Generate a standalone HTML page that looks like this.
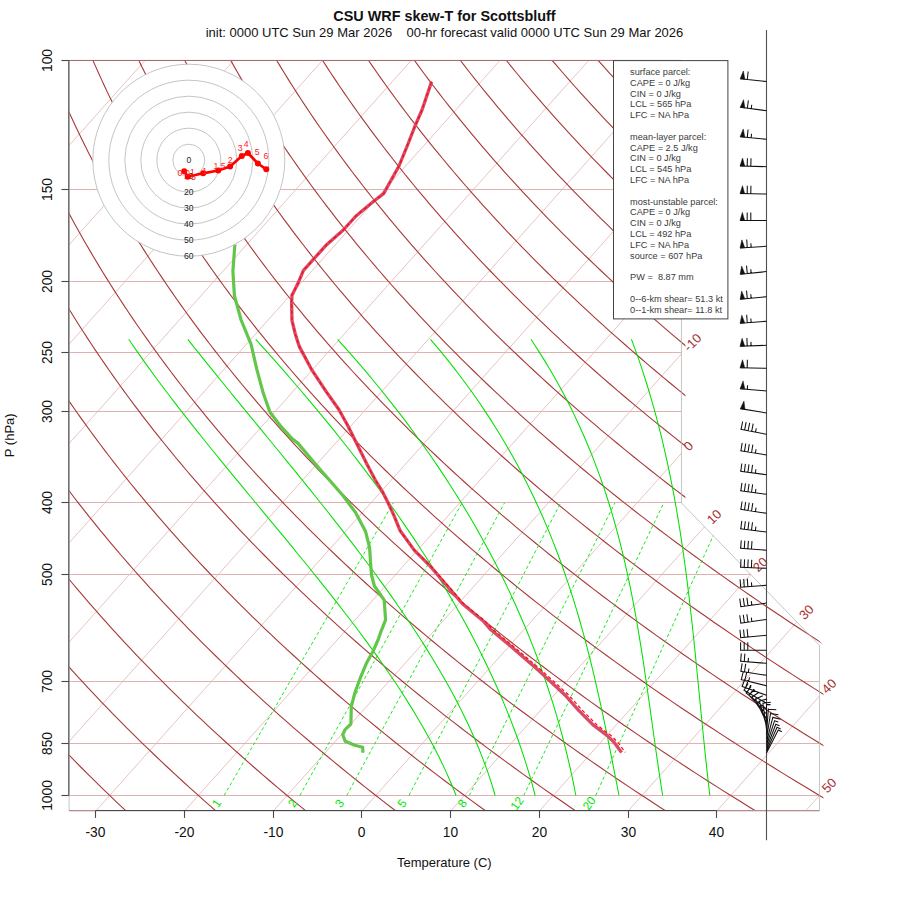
<!DOCTYPE html>
<html><head><meta charset="utf-8"><style>
html,body{margin:0;padding:0;background:#fff;}
svg{display:block;font-family:"Liberation Sans",sans-serif;}
</style></head><body>
<svg width="900" height="900" viewBox="0 0 900 900">
<rect width="900" height="900" fill="#fff"/>
<defs><clipPath id="cp"><polygon points="69.10,60.33 69.10,811.03 819.45,811.03 819.45,645.28 681.45,502.96 681.45,60.33"/></clipPath><clipPath id="cp2"><polygon points="69.10,60.33 69.10,811.03 823.45,811.03 823.45,645.28 685.45,502.96 685.45,60.33"/></clipPath></defs>
<g stroke="#dba8a8" stroke-width="0.9"><line x1="69.10" y1="795.50" x2="819.45" y2="795.50"/><line x1="69.10" y1="743.50" x2="819.45" y2="743.50"/><line x1="69.10" y1="681.50" x2="819.45" y2="681.50"/><line x1="69.10" y1="574.50" x2="750.49" y2="574.50"/><line x1="69.10" y1="502.50" x2="681.45" y2="502.50"/><line x1="69.10" y1="411.50" x2="681.45" y2="411.50"/><line x1="69.10" y1="352.50" x2="681.45" y2="352.50"/><line x1="69.10" y1="281.50" x2="681.45" y2="281.50"/><line x1="69.10" y1="189.50" x2="681.45" y2="189.50"/></g>
<g clip-path="url(#cp)" stroke="#e2b4b4" stroke-width="0.8"><line x1="-525.37" y1="811.03" x2="145.12" y2="60.33"/><line x1="-436.64" y1="811.03" x2="233.85" y2="60.33"/><line x1="-347.92" y1="811.03" x2="322.58" y2="60.33"/><line x1="-259.19" y1="811.03" x2="411.30" y2="60.33"/><line x1="-170.46" y1="811.03" x2="500.03" y2="60.33"/><line x1="-81.73" y1="811.03" x2="588.76" y2="60.33"/><line x1="6.99" y1="811.03" x2="677.49" y2="60.33"/><line x1="95.72" y1="811.03" x2="766.21" y2="60.33"/><line x1="184.45" y1="811.03" x2="854.94" y2="60.33"/><line x1="273.18" y1="811.03" x2="943.67" y2="60.33"/><line x1="361.90" y1="811.03" x2="1032.39" y2="60.33"/><line x1="450.63" y1="811.03" x2="1121.12" y2="60.33"/><line x1="539.36" y1="811.03" x2="1209.85" y2="60.33"/><line x1="628.08" y1="811.03" x2="1298.58" y2="60.33"/><line x1="716.81" y1="811.03" x2="1387.30" y2="60.33"/><line x1="805.54" y1="811.03" x2="1476.03" y2="60.33"/></g>
<g clip-path="url(#cp2)" fill="none" stroke="#a83838" stroke-width="1.1"><polyline points="-277.61,26.69 -277.08,33.31 -276.51,39.93 -275.90,46.54 -275.25,53.16 -274.57,59.78 -273.84,66.39 -273.07,73.01 -272.27,79.62 -271.43,86.24 -270.54,92.86 -269.62,99.47 -268.65,106.09 -267.64,112.71 -266.59,119.32 -265.51,125.94 -264.37,132.56 -263.20,139.17 -261.99,145.79 -260.73,152.41 -259.43,159.02 -258.09,165.64 -256.70,172.26 -255.27,178.87 -253.80,185.49 -252.28,192.11 -250.72,198.72 -249.12,205.34 -247.47,211.95 -245.77,218.57 -244.03,225.19 -242.25,231.80 -240.42,238.42 -238.54,245.04 -236.62,251.65 -234.65,258.27 -232.63,264.89 -230.57,271.50 -228.45,278.12 -226.29,284.74 -224.09,291.35 -221.83,297.97 -219.53,304.59 -217.18,311.20 -214.77,317.82 -212.32,324.44 -209.82,331.05 -207.27,337.67 -204.67,344.28 -202.02,350.90 -199.32,357.52 -196.56,364.13 -193.76,370.75 -190.90,377.37 -187.99,383.98 -185.03,390.60 -182.01,397.22 -178.95,403.83 -175.83,410.45 -172.65,417.07 -169.42,423.68 -166.14,430.30 -162.80,436.92 -159.41,443.53 -155.96,450.15 -152.46,456.77 -148.90,463.38 -145.28,470.00 -141.61,476.61 -137.88,483.23 -134.09,489.85 -130.25,496.46 -126.35,503.08 -122.39,509.70 -118.37,516.31 -114.29,522.93 -110.15,529.55 -105.96,536.16 -101.70,542.78 -97.38,549.40 -93.00,556.01 -88.56,562.63 -84.06,569.25 -79.50,575.86 -74.87,582.48 -70.18,589.10 -65.43,595.71 -60.62,602.33 -55.74,608.94 -50.80,615.56 -45.79,622.18 -40.72,628.79 -35.58,635.41 -30.38,642.03 -25.11,648.64 -19.77,655.26 -14.37,661.88 -8.90,668.49 -3.37,675.11 2.24,681.73 7.91,688.34 13.66,694.96 19.47,701.58 25.35,708.19 31.30,714.81 37.32,721.43 43.41,728.04 49.58,734.66 55.81,741.27 62.12,747.89 68.50,754.51 74.96,761.12 81.49,767.74 88.09,774.36 94.76,780.97 101.51,787.59 108.34,794.21 115.24,800.82 122.22,807.44 129.27,814.06"/><polyline points="-233.05,26.69 -232.25,33.31 -231.41,39.93 -230.54,46.54 -229.62,53.16 -228.66,59.78 -227.66,66.39 -226.62,73.01 -225.54,79.62 -224.42,86.24 -223.26,92.86 -222.05,99.47 -220.80,106.09 -219.51,112.71 -218.18,119.32 -216.80,125.94 -215.38,132.56 -213.92,139.17 -212.41,145.79 -210.86,152.41 -209.26,159.02 -207.62,165.64 -205.93,172.26 -204.20,178.87 -202.43,185.49 -200.60,192.11 -198.74,198.72 -196.82,205.34 -194.86,211.95 -192.85,218.57 -190.80,225.19 -188.70,231.80 -186.55,238.42 -184.35,245.04 -182.10,251.65 -179.81,258.27 -177.47,264.89 -175.08,271.50 -172.63,278.12 -170.14,284.74 -167.60,291.35 -165.01,297.97 -162.37,304.59 -159.68,311.20 -156.93,317.82 -154.14,324.44 -151.29,331.05 -148.39,337.67 -145.44,344.28 -142.44,350.90 -139.38,357.52 -136.27,364.13 -133.11,370.75 -129.89,377.37 -126.62,383.98 -123.29,390.60 -119.91,397.22 -116.47,403.83 -112.98,410.45 -109.43,417.07 -105.83,423.68 -102.17,430.30 -98.45,436.92 -94.67,443.53 -90.84,450.15 -86.95,456.77 -83.00,463.38 -78.99,470.00 -74.93,476.61 -70.80,483.23 -66.62,489.85 -62.37,496.46 -58.07,503.08 -53.70,509.70 -49.27,516.31 -44.78,522.93 -40.23,529.55 -35.62,536.16 -30.94,542.78 -26.20,549.40 -21.40,556.01 -16.54,562.63 -11.61,569.25 -6.61,575.86 -1.55,582.48 3.57,589.10 8.76,595.71 14.01,602.33 19.34,608.94 24.72,615.56 30.18,622.18 35.70,628.79 41.30,635.41 46.96,642.03 52.68,648.64 58.48,655.26 64.35,661.88 70.29,668.49 76.29,675.11 82.37,681.73 88.52,688.34 94.74,694.96 101.04,701.58 107.40,708.19 113.84,714.81 120.36,721.43 126.94,728.04 133.60,734.66 140.34,741.27 147.15,747.89 154.04,754.51 161.00,761.12 168.04,767.74 175.15,774.36 182.35,780.97 189.62,787.59 196.97,794.21 204.40,800.82 211.90,807.44 219.49,814.06"/><polyline points="-188.48,26.69 -187.42,33.31 -186.32,39.93 -185.17,46.54 -183.99,53.16 -182.76,59.78 -181.49,66.39 -180.17,73.01 -178.82,79.62 -177.42,86.24 -175.97,92.86 -174.49,99.47 -172.95,106.09 -171.38,112.71 -169.76,119.32 -168.09,125.94 -166.38,132.56 -164.63,139.17 -162.83,145.79 -160.98,152.41 -159.09,159.02 -157.15,165.64 -155.16,172.26 -153.13,178.87 -151.05,185.49 -148.92,192.11 -146.75,198.72 -144.52,205.34 -142.25,211.95 -139.93,218.57 -137.56,225.19 -135.15,231.80 -132.68,238.42 -130.16,245.04 -127.59,251.65 -124.97,258.27 -122.31,264.89 -119.59,271.50 -116.81,278.12 -113.99,284.74 -111.12,291.35 -108.19,297.97 -105.21,304.59 -102.18,311.20 -99.09,317.82 -95.95,324.44 -92.76,331.05 -89.51,337.67 -86.21,344.28 -82.86,350.90 -79.45,357.52 -75.98,364.13 -72.46,370.75 -68.88,377.37 -65.24,383.98 -61.55,390.60 -57.80,397.22 -54.00,403.83 -50.13,410.45 -46.21,417.07 -42.23,423.68 -38.19,430.30 -34.10,436.92 -29.94,443.53 -25.72,450.15 -21.44,456.77 -17.10,463.38 -12.71,470.00 -8.24,476.61 -3.72,483.23 0.86,489.85 5.51,496.46 10.22,503.08 14.99,509.70 19.83,516.31 24.73,522.93 29.69,529.55 34.72,536.16 39.81,542.78 44.97,549.40 50.20,556.01 55.49,562.63 60.84,569.25 66.27,575.86 71.76,582.48 77.32,589.10 82.95,595.71 88.65,602.33 94.41,608.94 100.25,615.56 106.15,622.18 112.13,628.79 118.17,635.41 124.29,642.03 130.48,648.64 136.74,655.26 143.07,661.88 149.48,668.49 155.95,675.11 162.51,681.73 169.13,688.34 175.83,694.96 182.61,701.58 189.46,708.19 196.39,714.81 203.39,721.43 210.47,728.04 217.63,734.66 224.86,741.27 232.18,747.89 239.57,754.51 247.04,761.12 254.59,767.74 262.22,774.36 269.93,780.97 277.72,787.59 285.60,794.21 293.55,800.82 301.59,807.44 309.71,814.06"/><polyline points="-143.92,26.69 -142.60,33.31 -141.23,39.93 -139.81,46.54 -138.36,53.16 -136.86,59.78 -135.31,66.39 -133.72,73.01 -132.09,79.62 -130.41,86.24 -128.69,92.86 -126.92,99.47 -125.11,106.09 -123.25,112.71 -121.34,119.32 -119.39,125.94 -117.39,132.56 -115.34,139.17 -113.25,145.79 -111.11,152.41 -108.92,159.02 -106.68,165.64 -104.39,172.26 -102.06,178.87 -99.68,185.49 -97.24,192.11 -94.76,198.72 -92.23,205.34 -89.65,211.95 -87.01,218.57 -84.33,225.19 -81.59,231.80 -78.81,238.42 -75.97,245.04 -73.08,251.65 -70.14,258.27 -67.14,264.89 -64.10,271.50 -60.99,278.12 -57.84,284.74 -54.63,291.35 -51.37,297.97 -48.05,304.59 -44.68,311.20 -41.25,317.82 -37.77,324.44 -34.23,331.05 -30.64,337.67 -26.98,344.28 -23.28,350.90 -19.51,357.52 -15.69,364.13 -11.81,370.75 -7.87,377.37 -3.87,383.98 0.18,390.60 4.30,397.22 8.48,403.83 12.71,410.45 17.01,417.07 21.36,423.68 25.78,430.30 30.26,436.92 34.80,443.53 39.40,450.15 44.06,456.77 48.79,463.38 53.58,470.00 58.44,476.61 63.36,483.23 68.34,489.85 73.39,496.46 78.50,503.08 83.68,509.70 88.92,516.31 94.23,522.93 99.61,529.55 105.05,536.16 110.57,542.78 116.15,549.40 121.79,556.01 127.51,562.63 133.30,569.25 139.15,575.86 145.08,582.48 151.07,589.10 157.14,595.71 163.28,602.33 169.49,608.94 175.77,615.56 182.12,622.18 188.55,628.79 195.05,635.41 201.62,642.03 208.27,648.64 214.99,655.26 221.79,661.88 228.66,668.49 235.61,675.11 242.64,681.73 249.74,688.34 256.92,694.96 264.18,701.58 271.52,708.19 278.93,714.81 286.42,721.43 294.00,728.04 301.65,734.66 309.39,741.27 317.20,747.89 325.10,754.51 333.08,761.12 341.14,767.74 349.29,774.36 357.51,780.97 365.83,787.59 374.22,794.21 382.71,800.82 391.27,807.44 399.93,814.06"/><polyline points="-99.36,26.69 -97.77,33.31 -96.13,39.93 -94.45,46.54 -92.72,53.16 -90.95,59.78 -89.14,66.39 -87.27,73.01 -85.36,79.62 -83.41,86.24 -81.40,92.86 -79.36,99.47 -77.26,106.09 -75.11,112.71 -72.92,119.32 -70.68,125.94 -68.39,132.56 -66.05,139.17 -63.67,145.79 -61.23,152.41 -58.75,159.02 -56.21,165.64 -53.62,172.26 -50.99,178.87 -48.30,185.49 -45.56,192.11 -42.77,198.72 -39.93,205.34 -37.04,211.95 -34.09,218.57 -31.09,225.19 -28.04,231.80 -24.94,238.42 -21.78,245.04 -18.57,251.65 -15.30,258.27 -11.98,264.89 -8.61,271.50 -5.17,278.12 -1.69,284.74 1.85,291.35 5.45,297.97 9.11,304.59 12.82,311.20 16.59,317.82 20.42,324.44 24.30,331.05 28.24,337.67 32.24,344.28 36.30,350.90 40.42,357.52 44.60,364.13 48.84,370.75 53.14,377.37 57.50,383.98 61.92,390.60 66.40,397.22 70.95,403.83 75.56,410.45 80.22,417.07 84.96,423.68 89.75,430.30 94.61,436.92 99.53,443.53 104.52,450.15 109.57,456.77 114.69,463.38 119.87,470.00 125.12,476.61 130.44,483.23 135.82,489.85 141.27,496.46 146.78,503.08 152.37,509.70 158.02,516.31 163.74,522.93 169.53,529.55 175.39,536.16 181.32,542.78 187.32,549.40 193.39,556.01 199.53,562.63 205.75,569.25 212.04,575.86 218.39,582.48 224.83,589.10 231.33,595.71 237.91,602.33 244.56,608.94 251.29,615.56 258.09,622.18 264.97,628.79 271.92,635.41 278.96,642.03 286.06,648.64 293.25,655.26 300.51,661.88 307.85,668.49 315.27,675.11 322.77,681.73 330.35,688.34 338.01,694.96 345.75,701.58 353.57,708.19 361.47,714.81 369.46,721.43 377.53,728.04 385.68,734.66 393.91,741.27 402.23,747.89 410.63,754.51 419.12,761.12 427.69,767.74 436.35,774.36 445.10,780.97 453.93,787.59 462.85,794.21 471.86,800.82 480.96,807.44 490.15,814.06"/><polyline points="-54.80,26.69 -52.94,33.31 -51.04,39.93 -49.09,46.54 -47.09,53.16 -45.05,59.78 -42.96,66.39 -40.82,73.01 -38.64,79.62 -36.40,86.24 -34.12,92.86 -31.79,99.47 -29.41,106.09 -26.98,112.71 -24.50,119.32 -21.97,125.94 -19.40,132.56 -16.77,139.17 -14.09,145.79 -11.36,152.41 -8.57,159.02 -5.74,165.64 -2.85,172.26 0.08,178.87 3.07,185.49 6.12,192.11 9.21,198.72 12.36,205.34 15.57,211.95 18.83,218.57 22.14,225.19 25.51,231.80 28.93,238.42 32.41,245.04 35.94,251.65 39.53,258.27 43.18,264.89 46.88,271.50 50.65,278.12 54.46,284.74 58.34,291.35 62.27,297.97 66.27,304.59 70.32,311.20 74.43,317.82 78.60,324.44 82.83,331.05 87.12,337.67 91.47,344.28 95.88,350.90 100.36,357.52 104.89,364.13 109.49,370.75 114.15,377.37 118.87,383.98 123.66,390.60 128.51,397.22 133.42,403.83 138.40,410.45 143.44,417.07 148.55,423.68 153.72,430.30 158.96,436.92 164.27,443.53 169.64,450.15 175.08,456.77 180.59,463.38 186.16,470.00 191.80,476.61 197.51,483.23 203.30,489.85 209.15,496.46 215.06,503.08 221.06,509.70 227.12,516.31 233.25,522.93 239.45,529.55 245.73,536.16 252.08,542.78 258.50,549.40 264.99,556.01 271.56,562.63 278.20,569.25 284.92,575.86 291.71,582.48 298.58,589.10 305.52,595.71 312.54,602.33 319.64,608.94 326.81,615.56 334.06,622.18 341.39,628.79 348.80,635.41 356.29,642.03 363.86,648.64 371.50,655.26 379.23,661.88 387.04,668.49 394.93,675.11 402.91,681.73 410.96,688.34 419.10,694.96 427.32,701.58 435.63,708.19 444.02,714.81 452.49,721.43 461.05,728.04 469.70,734.66 478.43,741.27 487.25,747.89 496.16,754.51 505.16,761.12 514.24,767.74 523.42,774.36 532.68,780.97 542.04,787.59 551.48,794.21 561.02,800.82 570.64,807.44 580.36,814.06"/><polyline points="-10.23,26.69 -8.11,33.31 -5.94,39.93 -3.73,46.54 -1.46,53.16 0.85,59.78 3.22,66.39 5.63,73.01 8.09,79.62 10.60,86.24 13.16,92.86 15.77,99.47 18.44,106.09 21.15,112.71 23.91,119.32 26.73,125.94 29.60,132.56 32.52,139.17 35.49,145.79 38.52,152.41 41.60,159.02 44.73,165.64 47.91,172.26 51.15,178.87 54.45,185.49 57.80,192.11 61.20,198.72 64.66,205.34 68.18,211.95 71.75,218.57 75.38,225.19 79.06,231.80 82.80,238.42 86.60,245.04 90.46,251.65 94.37,258.27 98.34,264.89 102.37,271.50 106.47,278.12 110.62,284.74 114.83,291.35 119.10,297.97 123.43,304.59 127.82,311.20 132.27,317.82 136.78,324.44 141.36,331.05 146.00,337.67 150.70,344.28 155.47,350.90 160.29,357.52 165.18,364.13 170.14,370.75 175.16,377.37 180.25,383.98 185.40,390.60 190.61,397.22 195.90,403.83 201.25,410.45 206.66,417.07 212.15,423.68 217.70,430.30 223.32,436.92 229.00,443.53 234.76,450.15 240.59,456.77 246.48,463.38 252.45,470.00 258.49,476.61 264.59,483.23 270.77,489.85 277.02,496.46 283.35,503.08 289.74,509.70 296.21,516.31 302.76,522.93 309.37,529.55 316.06,536.16 322.83,542.78 329.67,549.40 336.59,556.01 343.58,562.63 350.65,569.25 357.80,575.86 365.03,582.48 372.33,589.10 379.71,595.71 387.17,602.33 394.71,608.94 402.33,615.56 410.03,622.18 417.81,628.79 425.68,635.41 433.62,642.03 441.65,648.64 449.76,655.26 457.95,661.88 466.23,668.49 474.59,675.11 483.04,681.73 491.57,688.34 500.19,694.96 508.89,701.58 517.68,708.19 526.56,714.81 535.53,721.43 544.58,728.04 553.73,734.66 562.96,741.27 572.28,747.89 581.69,754.51 591.20,761.12 600.80,767.74 610.48,774.36 620.27,780.97 630.14,787.59 640.11,794.21 650.17,800.82 660.33,807.44 670.58,814.06"/><polyline points="34.33,26.69 36.72,33.31 39.15,39.93 41.64,46.54 44.17,53.16 46.76,59.78 49.39,66.39 52.08,73.01 54.82,79.62 57.61,86.24 60.45,92.86 63.34,99.47 66.28,106.09 69.28,112.71 72.33,119.32 75.44,125.94 78.59,132.56 81.81,139.17 85.07,145.79 88.39,152.41 91.77,159.02 95.20,165.64 98.68,172.26 102.23,178.87 105.82,185.49 109.48,192.11 113.19,198.72 116.96,205.34 120.78,211.95 124.67,218.57 128.61,225.19 132.61,231.80 136.67,238.42 140.79,245.04 144.97,251.65 149.21,258.27 153.51,264.89 157.86,271.50 162.29,278.12 166.77,284.74 171.31,291.35 175.92,297.97 180.59,304.59 185.32,311.20 190.11,317.82 194.97,324.44 199.89,331.05 204.88,337.67 209.93,344.28 215.05,350.90 220.23,357.52 225.48,364.13 230.79,370.75 236.17,377.37 241.62,383.98 247.13,390.60 252.72,397.22 258.37,403.83 264.09,410.45 269.88,417.07 275.74,423.68 281.67,430.30 287.67,436.92 293.74,443.53 299.88,450.15 306.09,456.77 312.38,463.38 318.74,470.00 325.17,476.61 331.67,483.23 338.25,489.85 344.90,496.46 351.63,503.08 358.43,509.70 365.31,516.31 372.26,522.93 379.29,529.55 386.40,536.16 393.58,542.78 400.85,549.40 408.19,556.01 415.61,562.63 423.11,569.25 430.68,575.86 438.34,582.48 446.08,589.10 453.90,595.71 461.80,602.33 469.79,608.94 477.85,615.56 486.00,622.18 494.24,628.79 502.55,635.41 510.96,642.03 519.44,648.64 528.02,655.26 536.67,661.88 545.42,668.49 554.25,675.11 563.17,681.73 572.18,688.34 581.28,694.96 590.46,701.58 599.74,708.19 609.10,714.81 618.56,721.43 628.11,728.04 637.75,734.66 647.48,741.27 657.31,747.89 667.23,754.51 677.24,761.12 687.35,767.74 697.55,774.36 707.85,780.97 718.24,787.59 728.74,794.21 739.33,800.82 750.01,807.44 760.80,814.06"/><polyline points="78.89,26.69 81.54,33.31 84.24,39.93 87.00,46.54 89.80,53.16 92.66,59.78 95.57,66.39 98.53,73.01 101.54,79.62 104.61,86.24 107.73,92.86 110.90,99.47 114.13,106.09 117.41,112.71 120.75,119.32 124.14,125.94 127.59,132.56 131.09,139.17 134.65,145.79 138.27,152.41 141.94,159.02 145.67,165.64 149.45,172.26 153.30,178.87 157.20,185.49 161.16,192.11 165.18,198.72 169.25,205.34 173.39,211.95 177.59,218.57 181.84,225.19 186.16,231.80 190.54,238.42 194.98,245.04 199.48,251.65 204.04,258.27 208.67,264.89 213.35,271.50 218.11,278.12 222.92,284.74 227.80,291.35 232.74,297.97 237.74,304.59 242.82,311.20 247.95,317.82 253.15,324.44 258.42,331.05 263.76,337.67 269.16,344.28 274.63,350.90 280.16,357.52 285.77,364.13 291.44,370.75 297.18,377.37 302.99,383.98 308.87,390.60 314.82,397.22 320.84,403.83 326.94,410.45 333.10,417.07 339.33,423.68 345.64,430.30 352.02,436.92 358.48,443.53 365.00,450.15 371.60,456.77 378.28,463.38 385.03,470.00 391.85,476.61 398.75,483.23 405.73,489.85 412.78,496.46 419.91,503.08 427.12,509.70 434.41,516.31 441.77,522.93 449.21,529.55 456.74,536.16 464.34,542.78 472.02,549.40 479.79,556.01 487.63,562.63 495.56,569.25 503.57,575.86 511.66,582.48 519.83,589.10 528.09,595.71 536.43,602.33 544.86,608.94 553.38,615.56 561.97,622.18 570.66,628.79 579.43,635.41 588.29,642.03 597.24,648.64 606.27,655.26 615.39,661.88 624.61,668.49 633.91,675.11 643.30,681.73 652.79,688.34 662.37,694.96 672.03,701.58 681.79,708.19 691.65,714.81 701.60,721.43 711.64,728.04 721.77,734.66 732.01,741.27 742.33,747.89 752.76,754.51 763.28,761.12 773.90,767.74 784.62,774.36 795.43,780.97 806.35,787.59 817.37,794.21 828.48,800.82 839.70,807.44 851.02,814.06"/><polyline points="123.45,26.69 126.37,33.31 129.34,39.93 132.36,46.54 135.43,53.16 138.56,59.78 141.74,66.39 144.98,73.01 148.27,79.62 151.61,86.24 155.01,92.86 158.47,99.47 161.98,106.09 165.55,112.71 169.17,119.32 172.85,125.94 176.59,132.56 180.38,139.17 184.23,145.79 188.14,152.41 192.11,159.02 196.14,165.64 200.22,172.26 204.37,178.87 208.57,185.49 212.84,192.11 217.16,198.72 221.55,205.34 226.00,211.95 230.51,218.57 235.08,225.19 239.71,231.80 244.41,238.42 249.17,245.04 253.99,251.65 258.88,258.27 263.83,264.89 268.84,271.50 273.92,278.12 279.07,284.74 284.28,291.35 289.56,297.97 294.90,304.59 300.31,311.20 305.79,317.82 311.34,324.44 316.95,331.05 322.63,337.67 328.39,344.28 334.21,350.90 340.10,357.52 346.06,364.13 352.09,370.75 358.19,377.37 364.36,383.98 370.61,390.60 376.93,397.22 383.32,403.83 389.78,410.45 396.32,417.07 402.93,423.68 409.61,430.30 416.38,436.92 423.21,443.53 430.12,450.15 437.11,456.77 444.17,463.38 451.32,470.00 458.53,476.61 465.83,483.23 473.21,489.85 480.66,496.46 488.20,503.08 495.81,509.70 503.50,516.31 511.28,522.93 519.14,529.55 527.07,536.16 535.09,542.78 543.20,549.40 551.38,556.01 559.66,562.63 568.01,569.25 576.45,575.86 584.97,582.48 593.59,589.10 602.28,595.71 611.07,602.33 619.94,608.94 628.90,615.56 637.94,622.18 647.08,628.79 656.31,635.41 665.62,642.03 675.03,648.64 684.53,655.26 694.12,661.88 703.80,668.49 713.57,675.11 723.44,681.73 733.40,688.34 743.45,694.96 753.60,701.58 763.85,708.19 774.19,714.81 784.63,721.43 795.17,728.04 805.80,734.66 816.53,741.27 827.36,747.89 838.29,754.51 849.32,761.12 860.45,767.74 871.68,774.36 883.02,780.97 894.45,787.59 905.99,794.21 917.64,800.82 929.38,807.44 941.24,814.06"/><polyline points="168.02,26.69 171.20,33.31 174.43,39.93 177.72,46.54 181.07,53.16 184.47,59.78 187.92,66.39 191.43,73.01 195.00,79.62 198.62,86.24 202.30,92.86 206.03,99.47 209.83,106.09 213.68,112.71 217.59,119.32 221.56,125.94 225.58,132.56 229.67,139.17 233.81,145.79 238.02,152.41 242.28,159.02 246.61,165.64 250.99,172.26 255.44,178.87 259.95,185.49 264.52,192.11 269.15,198.72 273.85,205.34 278.61,211.95 283.43,218.57 288.31,225.19 293.26,231.80 298.28,238.42 303.36,245.04 308.50,251.65 313.71,258.27 318.99,264.89 324.33,271.50 329.74,278.12 335.22,284.74 340.77,291.35 346.38,297.97 352.06,304.59 357.81,311.20 363.63,317.82 369.52,324.44 375.48,331.05 381.51,337.67 387.61,344.28 393.79,350.90 400.03,357.52 406.35,364.13 412.74,370.75 419.20,377.37 425.74,383.98 432.35,390.60 439.03,397.22 445.79,403.83 452.63,410.45 459.54,417.07 466.52,423.68 473.59,430.30 480.73,436.92 487.95,443.53 495.24,450.15 502.62,456.77 510.07,463.38 517.60,470.00 525.22,476.61 532.91,483.23 540.68,489.85 548.54,496.46 556.48,503.08 564.50,509.70 572.60,516.31 580.79,522.93 589.06,529.55 597.41,536.16 605.85,542.78 614.37,549.40 622.98,556.01 631.68,562.63 640.46,569.25 649.33,575.86 658.29,582.48 667.34,589.10 676.47,595.71 685.70,602.33 695.01,608.94 704.42,615.56 713.91,622.18 723.50,628.79 733.18,635.41 742.96,642.03 752.82,648.64 762.78,655.26 772.84,661.88 782.99,668.49 793.23,675.11 803.57,681.73 814.01,688.34 824.54,694.96 835.17,701.58 845.91,708.19 856.73,714.81 867.66,721.43 878.69,728.04 889.82,734.66 901.05,741.27 912.39,747.89 923.82,754.51 935.36,761.12 947.00,767.74 958.75,774.36 970.60,780.97 982.56,787.59 994.62,794.21 1006.79,800.82 1019.07,807.44 1031.46,814.06"/><polyline points="212.58,26.69 216.03,33.31 219.53,39.93 223.08,46.54 226.70,53.16 230.37,59.78 234.10,66.39 237.88,73.01 241.72,79.62 245.62,86.24 249.58,92.86 253.60,99.47 257.68,106.09 261.81,112.71 266.01,119.32 270.26,125.94 274.58,132.56 278.95,139.17 283.39,145.79 287.89,152.41 292.45,159.02 297.08,165.64 301.76,172.26 306.51,178.87 311.32,185.49 316.20,192.11 321.14,198.72 326.14,205.34 331.21,211.95 336.35,218.57 341.55,225.19 346.82,231.80 352.15,238.42 357.55,245.04 363.02,251.65 368.55,258.27 374.15,264.89 379.82,271.50 385.56,278.12 391.37,284.74 397.25,291.35 403.20,297.97 409.22,304.59 415.31,311.20 421.47,317.82 427.71,324.44 434.01,331.05 440.39,337.67 446.84,344.28 453.37,350.90 459.97,357.52 466.64,364.13 473.39,370.75 480.21,377.37 487.11,383.98 494.09,390.60 501.14,397.22 508.27,403.83 515.47,410.45 522.76,417.07 530.12,423.68 537.56,430.30 545.08,436.92 552.68,443.53 560.36,450.15 568.12,456.77 575.97,463.38 583.89,470.00 591.90,476.61 599.99,483.23 608.16,489.85 616.42,496.46 624.76,503.08 633.19,509.70 641.70,516.31 650.29,522.93 658.98,529.55 667.75,536.16 676.60,542.78 685.55,549.40 694.58,556.01 703.70,562.63 712.91,569.25 722.22,575.86 731.61,582.48 741.09,589.10 750.66,595.71 760.33,602.33 770.09,608.94 779.94,615.56 789.89,622.18 799.93,628.79 810.06,635.41 820.29,642.03 830.62,648.64 841.04,655.26 851.56,661.88 862.17,668.49 872.89,675.11 883.70,681.73 894.62,688.34 905.63,694.96 916.75,701.58 927.96,708.19 939.28,714.81 950.70,721.43 962.22,728.04 973.85,734.66 985.58,741.27 997.41,747.89 1009.35,754.51 1021.40,761.12 1033.56,767.74 1045.82,774.36 1058.19,780.97 1070.66,787.59 1083.25,794.21 1095.95,800.82 1108.76,807.44 1121.67,814.06"/><polyline points="257.14,26.69 260.85,33.31 264.62,39.93 268.45,46.54 272.33,53.16 276.27,59.78 280.27,66.39 284.33,73.01 288.45,79.62 292.63,86.24 296.87,92.86 301.16,99.47 305.52,106.09 309.94,112.71 314.42,119.32 318.97,125.94 323.57,132.56 328.24,139.17 332.97,145.79 337.77,152.41 342.62,159.02 347.55,165.64 352.53,172.26 357.58,178.87 362.70,185.49 367.88,192.11 373.13,198.72 378.44,205.34 383.82,211.95 389.27,218.57 394.78,225.19 400.37,231.80 406.02,238.42 411.74,245.04 417.53,251.65 423.39,258.27 429.32,264.89 435.31,271.50 441.38,278.12 447.53,284.74 453.74,291.35 460.02,297.97 466.38,304.59 472.81,311.20 479.31,317.82 485.89,324.44 492.54,331.05 499.27,337.67 506.07,344.28 512.95,350.90 519.90,357.52 526.93,364.13 534.04,370.75 541.22,377.37 548.48,383.98 555.82,390.60 563.24,397.22 570.74,403.83 578.32,410.45 585.97,417.07 593.71,423.68 601.53,430.30 609.43,436.92 617.42,443.53 625.48,450.15 633.63,456.77 641.86,463.38 650.18,470.00 658.58,476.61 667.07,483.23 675.64,489.85 684.30,496.46 693.04,503.08 701.87,509.70 710.79,516.31 719.80,522.93 728.90,529.55 738.08,536.16 747.36,542.78 756.72,549.40 766.18,556.01 775.73,562.63 785.37,569.25 795.10,575.86 804.92,582.48 814.84,589.10 824.85,595.71 834.96,602.33 845.16,608.94 855.46,615.56 865.86,622.18 876.35,628.79 886.94,635.41 897.62,642.03 908.41,648.64 919.29,655.26 930.28,661.88 941.36,668.49 952.55,675.11 963.84,681.73 975.23,688.34 986.72,694.96 998.32,701.58 1010.02,708.19 1021.82,714.81 1033.73,721.43 1045.75,728.04 1057.87,734.66 1070.10,741.27 1082.44,747.89 1094.89,754.51 1107.44,761.12 1120.11,767.74 1132.88,774.36 1145.77,780.97 1158.77,787.59 1171.88,794.21 1185.10,800.82 1198.44,807.44 1211.89,814.06"/><polyline points="301.70,26.69 305.68,33.31 309.72,39.93 313.81,46.54 317.96,53.16 322.17,59.78 326.45,66.39 330.78,73.01 335.18,79.62 339.63,86.24 344.15,92.86 348.73,99.47 353.37,106.09 358.08,112.71 362.84,119.32 367.67,125.94 372.57,132.56 377.53,139.17 382.55,145.79 387.64,152.41 392.79,159.02 398.01,165.64 403.30,172.26 408.65,178.87 414.07,185.49 419.56,192.11 425.11,198.72 430.74,205.34 436.43,211.95 442.19,218.57 448.02,225.19 453.92,231.80 459.89,238.42 465.93,245.04 472.04,251.65 478.22,258.27 484.48,264.89 490.80,271.50 497.20,278.12 503.68,284.74 510.22,291.35 516.84,297.97 523.54,304.59 530.31,311.20 537.16,317.82 544.08,324.44 551.07,331.05 558.15,337.67 565.30,344.28 572.53,350.90 579.84,357.52 587.22,364.13 594.69,370.75 602.23,377.37 609.86,383.98 617.56,390.60 625.35,397.22 633.21,403.83 641.16,410.45 649.19,417.07 657.31,423.68 665.51,430.30 673.79,436.92 682.15,443.53 690.60,450.15 699.14,456.77 707.76,463.38 716.47,470.00 725.27,476.61 734.15,483.23 743.12,489.85 752.18,496.46 761.33,503.08 770.56,509.70 779.89,516.31 789.31,522.93 798.82,529.55 808.42,536.16 818.11,542.78 827.90,549.40 837.78,556.01 847.75,562.63 857.82,569.25 867.98,575.86 878.24,582.48 888.59,589.10 899.04,595.71 909.59,602.33 920.24,608.94 930.98,615.56 941.83,622.18 952.77,628.79 963.81,635.41 974.96,642.03 986.20,648.64 997.55,655.26 1009.00,661.88 1020.55,668.49 1032.21,675.11 1043.97,681.73 1055.84,688.34 1067.81,694.96 1079.89,701.58 1092.07,708.19 1104.37,714.81 1116.77,721.43 1129.28,728.04 1141.90,734.66 1154.63,741.27 1167.47,747.89 1180.42,754.51 1193.48,761.12 1206.66,767.74 1219.95,774.36 1233.35,780.97 1246.87,787.59 1260.51,794.21 1274.26,800.82 1288.13,807.44 1302.11,814.06"/><polyline points="346.27,26.69 350.51,33.31 354.81,39.93 359.17,46.54 363.59,53.16 368.08,59.78 372.62,66.39 377.23,73.01 381.90,79.62 386.64,86.24 391.43,92.86 396.29,99.47 401.22,106.09 406.21,112.71 411.26,119.32 416.38,125.94 421.56,132.56 426.81,139.17 432.13,145.79 437.52,152.41 442.97,159.02 448.48,165.64 454.07,172.26 459.72,178.87 465.45,185.49 471.24,192.11 477.10,198.72 483.03,205.34 489.04,211.95 495.11,218.57 501.25,225.19 507.47,231.80 513.76,238.42 520.12,245.04 526.55,251.65 533.06,258.27 539.64,264.89 546.29,271.50 553.02,278.12 559.83,284.74 566.71,291.35 573.67,297.97 580.70,304.59 587.81,311.20 595.00,317.82 602.26,324.44 609.60,331.05 617.03,337.67 624.53,344.28 632.11,350.90 639.77,357.52 647.51,364.13 655.34,370.75 663.24,377.37 671.23,383.98 679.30,390.60 687.45,397.22 695.69,403.83 704.01,410.45 712.41,417.07 720.90,423.68 729.48,430.30 738.14,436.92 746.89,443.53 755.72,450.15 764.65,456.77 773.66,463.38 782.76,470.00 791.95,476.61 801.23,483.23 810.60,489.85 820.06,496.46 829.61,503.08 839.25,509.70 848.99,516.31 858.82,522.93 868.74,529.55 878.76,536.16 888.87,542.78 899.07,549.40 909.38,556.01 919.78,562.63 930.27,569.25 940.86,575.86 951.56,582.48 962.35,589.10 973.23,595.71 984.22,602.33 995.31,608.94 1006.50,615.56 1017.80,622.18 1029.19,628.79 1040.69,635.41 1052.29,642.03 1063.99,648.64 1075.80,655.26 1087.72,661.88 1099.74,668.49 1111.87,675.11 1124.10,681.73 1136.45,688.34 1148.90,694.96 1161.46,701.58 1174.13,708.19 1186.91,714.81 1199.80,721.43 1212.80,728.04 1225.92,734.66 1239.15,741.27 1252.49,747.89 1265.95,754.51 1279.52,761.12 1293.21,767.74 1307.02,774.36 1320.94,780.97 1334.98,787.59 1349.14,794.21 1363.41,800.82 1377.81,807.44 1392.33,814.06"/><polyline points="390.83,26.69 395.34,33.31 399.90,39.93 404.53,46.54 409.23,53.16 413.98,59.78 418.80,66.39 423.68,73.01 428.63,79.62 433.64,86.24 438.72,92.86 443.86,99.47 449.07,106.09 454.34,112.71 459.68,119.32 465.09,125.94 470.56,132.56 476.10,139.17 481.71,145.79 487.39,152.41 493.14,159.02 498.95,165.64 504.84,172.26 510.80,178.87 516.82,185.49 522.92,192.11 529.09,198.72 535.33,205.34 541.64,211.95 548.03,218.57 554.49,225.19 561.02,231.80 567.63,238.42 574.31,245.04 581.06,251.65 587.90,258.27 594.80,264.89 601.78,271.50 608.84,278.12 615.98,284.74 623.20,291.35 630.49,297.97 637.86,304.59 645.31,311.20 652.84,317.82 660.45,324.44 668.14,331.05 675.91,337.67 683.76,344.28 691.69,350.90 699.71,357.52 707.80,364.13 715.99,370.75 724.25,377.37 732.60,383.98 741.04,390.60 749.56,397.22 758.16,403.83 766.85,410.45 775.63,417.07 784.50,423.68 793.45,430.30 802.49,436.92 811.62,443.53 820.84,450.15 830.15,456.77 839.56,463.38 849.05,470.00 858.63,476.61 868.31,483.23 878.07,489.85 887.94,496.46 897.89,503.08 907.94,509.70 918.08,516.31 928.32,522.93 938.66,529.55 949.09,536.16 959.62,542.78 970.25,549.40 980.97,556.01 991.80,562.63 1002.72,569.25 1013.75,575.86 1024.87,582.48 1036.10,589.10 1047.43,595.71 1058.86,602.33 1070.39,608.94 1082.03,615.56 1093.77,622.18 1105.61,628.79 1117.57,635.41 1129.62,642.03 1141.79,648.64 1154.06,655.26 1166.44,661.88 1178.93,668.49 1191.53,675.11 1204.24,681.73 1217.06,688.34 1229.99,694.96 1243.03,701.58 1256.18,708.19 1269.45,714.81 1282.84,721.43 1296.33,728.04 1309.94,734.66 1323.67,741.27 1337.52,747.89 1351.48,754.51 1365.56,761.12 1379.76,767.74 1394.08,774.36 1408.52,780.97 1423.08,787.59 1437.76,794.21 1452.57,800.82 1467.50,807.44 1482.55,814.06"/><polyline points="435.39,26.69 440.16,33.31 445.00,39.93 449.90,46.54 454.86,53.16 459.88,59.78 464.98,66.39 470.13,73.01 475.36,79.62 480.65,86.24 486.00,92.86 491.42,99.47 496.91,106.09 502.47,112.71 508.10,119.32 513.79,125.94 519.56,132.56 525.39,139.17 531.29,145.79 537.26,152.41 543.31,159.02 549.42,165.64 555.61,172.26 561.87,178.87 568.20,185.49 574.60,192.11 581.08,198.72 587.63,205.34 594.25,211.95 600.95,218.57 607.72,225.19 614.57,231.80 621.50,238.42 628.50,245.04 635.58,251.65 642.73,258.27 649.96,264.89 657.27,271.50 664.66,278.12 672.13,284.74 679.68,291.35 687.31,297.97 695.02,304.59 702.81,311.20 710.68,317.82 718.63,324.44 726.67,331.05 734.78,337.67 742.99,344.28 751.27,350.90 759.64,357.52 768.10,364.13 776.64,370.75 785.26,377.37 793.97,383.98 802.77,390.60 811.66,397.22 820.63,403.83 829.70,410.45 838.85,417.07 848.09,423.68 857.42,430.30 866.85,436.92 876.36,443.53 885.96,450.15 895.66,456.77 905.45,463.38 915.34,470.00 925.31,476.61 935.39,483.23 945.55,489.85 955.81,496.46 966.17,503.08 976.63,509.70 987.18,516.31 997.83,522.93 1008.58,529.55 1019.43,536.16 1030.38,542.78 1041.42,549.40 1052.57,556.01 1063.82,562.63 1075.18,569.25 1086.63,575.86 1098.19,582.48 1109.85,589.10 1121.62,595.71 1133.49,602.33 1145.46,608.94 1157.55,615.56 1169.74,622.18 1182.04,628.79 1194.44,635.41 1206.96,642.03 1219.58,648.64 1232.32,655.26 1245.16,661.88 1258.12,668.49 1271.19,675.11 1284.37,681.73 1297.67,688.34 1311.08,694.96 1324.60,701.58 1338.24,708.19 1352.00,714.81 1365.87,721.43 1379.86,728.04 1393.97,734.66 1408.20,741.27 1422.55,747.89 1437.01,754.51 1451.60,761.12 1466.31,767.74 1481.15,774.36 1496.11,780.97 1511.19,787.59 1526.39,794.21 1541.72,800.82 1557.18,807.44 1572.77,814.06"/><polyline points="479.96,26.69 484.99,33.31 490.09,39.93 495.26,46.54 500.49,53.16 505.79,59.78 511.15,66.39 516.58,73.01 522.08,79.62 527.65,86.24 533.28,92.86 538.99,99.47 544.76,106.09 550.60,112.71 556.52,119.32 562.50,125.94 568.55,132.56 574.68,139.17 580.87,145.79 587.14,152.41 593.48,159.02 599.89,165.64 606.38,172.26 612.94,178.87 619.57,185.49 626.28,192.11 633.06,198.72 639.92,205.34 646.86,211.95 653.87,218.57 660.96,225.19 668.12,231.80 675.37,238.42 682.69,245.04 690.09,251.65 697.57,258.27 705.13,264.89 712.76,271.50 720.48,278.12 728.28,284.74 736.17,291.35 744.13,297.97 752.18,304.59 760.31,311.20 768.52,317.82 776.81,324.44 785.20,331.05 793.66,337.67 802.21,344.28 810.85,350.90 819.58,357.52 828.39,364.13 837.28,370.75 846.27,377.37 855.35,383.98 864.51,390.60 873.76,397.22 883.11,403.83 892.54,410.45 902.07,417.07 911.69,423.68 921.40,430.30 931.20,436.92 941.09,443.53 951.09,450.15 961.17,456.77 971.35,463.38 981.62,470.00 992.00,476.61 1002.46,483.23 1013.03,489.85 1023.69,496.46 1034.46,503.08 1045.32,509.70 1056.28,516.31 1067.34,522.93 1078.50,529.55 1089.77,536.16 1101.13,542.78 1112.60,549.40 1124.17,556.01 1135.85,562.63 1147.63,569.25 1159.51,575.86 1171.50,582.48 1183.60,589.10 1195.81,595.71 1208.12,602.33 1220.54,608.94 1233.07,615.56 1245.71,622.18 1258.46,628.79 1271.32,635.41 1284.29,642.03 1297.37,648.64 1310.57,655.26 1323.88,661.88 1337.31,668.49 1350.85,675.11 1364.50,681.73 1378.27,688.34 1392.16,694.96 1406.17,701.58 1420.30,708.19 1434.54,714.81 1448.90,721.43 1463.39,728.04 1477.99,734.66 1492.72,741.27 1507.57,747.89 1522.55,754.51 1537.64,761.12 1552.87,767.74 1568.21,774.36 1583.69,780.97 1599.29,787.59 1615.02,794.21 1630.88,800.82 1646.87,807.44 1662.99,814.06"/><polyline points="524.52,26.69 529.82,33.31 535.19,39.93 540.62,46.54 546.12,53.16 551.69,59.78 557.33,66.39 563.03,73.01 568.81,79.62 574.65,86.24 580.57,92.86 586.55,99.47 592.61,106.09 598.74,112.71 604.93,119.32 611.20,125.94 617.55,132.56 623.96,139.17 630.45,145.79 637.01,152.41 643.65,159.02 650.36,165.64 657.15,172.26 664.01,178.87 670.95,185.49 677.96,192.11 685.05,198.72 692.22,205.34 699.47,211.95 706.79,218.57 714.19,225.19 721.67,231.80 729.24,238.42 736.88,245.04 744.60,251.65 752.40,258.27 760.29,264.89 768.25,271.50 776.30,278.12 784.44,284.74 792.65,291.35 800.95,297.97 809.34,304.59 817.80,311.20 826.36,317.82 835.00,324.44 843.73,331.05 852.54,337.67 861.44,344.28 870.43,350.90 879.51,357.52 888.68,364.13 897.93,370.75 907.28,377.37 916.72,383.98 926.25,390.60 935.87,397.22 945.58,403.83 955.39,410.45 965.29,417.07 975.28,423.68 985.37,430.30 995.55,436.92 1005.83,443.53 1016.21,450.15 1026.68,456.77 1037.25,463.38 1047.91,470.00 1058.68,476.61 1069.54,483.23 1080.51,489.85 1091.57,496.46 1102.74,503.08 1114.01,509.70 1125.38,516.31 1136.85,522.93 1148.42,529.55 1160.10,536.16 1171.89,542.78 1183.78,549.40 1195.77,556.01 1207.87,562.63 1220.08,569.25 1232.40,575.86 1244.82,582.48 1257.35,589.10 1270.00,595.71 1282.75,602.33 1295.61,608.94 1308.59,615.56 1321.68,622.18 1334.88,628.79 1348.19,635.41 1361.62,642.03 1375.17,648.64 1388.83,655.26 1402.60,661.88 1416.50,668.49 1430.51,675.11 1444.64,681.73 1458.88,688.34 1473.25,694.96 1487.74,701.58 1502.35,708.19 1517.08,714.81 1531.94,721.43 1546.92,728.04 1562.02,734.66 1577.25,741.27 1592.60,747.89 1608.08,754.51 1623.68,761.12 1639.42,767.74 1655.28,774.36 1671.27,780.97 1687.40,787.59 1703.65,794.21 1720.03,800.82 1736.55,807.44 1753.20,814.06"/><polyline points="569.08,26.69 574.65,33.31 580.28,39.93 585.98,46.54 591.75,53.16 597.59,59.78 603.50,66.39 609.48,73.01 615.54,79.62 621.66,86.24 627.85,92.86 634.12,99.47 640.46,106.09 646.87,112.71 653.35,119.32 659.91,125.94 666.54,132.56 673.25,139.17 680.03,145.79 686.89,152.41 693.82,159.02 700.83,165.64 707.92,172.26 715.08,178.87 722.32,185.49 729.64,192.11 737.04,198.72 744.52,205.34 752.07,211.95 759.71,218.57 767.43,225.19 775.23,231.80 783.11,238.42 791.07,245.04 799.11,251.65 807.24,258.27 815.45,264.89 823.74,271.50 832.12,278.12 840.59,284.74 849.14,291.35 857.77,297.97 866.49,304.59 875.30,311.20 884.20,317.82 893.18,324.44 902.26,331.05 911.42,337.67 920.67,344.28 930.01,350.90 939.44,357.52 948.97,364.13 958.58,370.75 968.29,377.37 978.09,383.98 987.99,390.60 997.97,397.22 1008.06,403.83 1018.23,410.45 1028.51,417.07 1038.88,423.68 1049.34,430.30 1059.90,436.92 1070.57,443.53 1081.33,450.15 1092.18,456.77 1103.14,463.38 1114.20,470.00 1125.36,476.61 1136.62,483.23 1147.99,489.85 1159.45,496.46 1171.02,503.08 1182.69,509.70 1194.47,516.31 1206.36,522.93 1218.34,529.55 1230.44,536.16 1242.64,542.78 1254.95,549.40 1267.37,556.01 1279.90,562.63 1292.53,569.25 1305.28,575.86 1318.14,582.48 1331.11,589.10 1344.19,595.71 1357.38,602.33 1370.69,608.94 1384.11,615.56 1397.65,622.18 1411.30,628.79 1425.07,635.41 1438.96,642.03 1452.96,648.64 1467.08,655.26 1481.32,661.88 1495.69,668.49 1510.17,675.11 1524.77,681.73 1539.49,688.34 1554.34,694.96 1569.31,701.58 1584.41,708.19 1599.63,714.81 1614.97,721.43 1630.44,728.04 1646.04,734.66 1661.77,741.27 1677.62,747.89 1693.61,754.51 1709.72,761.12 1725.97,767.74 1742.35,774.36 1758.86,780.97 1775.50,787.59 1792.28,794.21 1809.19,800.82 1826.24,807.44 1843.42,814.06"/><polyline points="613.64,26.69 619.47,33.31 625.37,39.93 631.34,46.54 637.38,53.16 643.50,59.78 649.68,66.39 655.94,73.01 662.26,79.62 668.66,86.24 675.14,92.86 681.68,99.47 688.30,106.09 695.00,112.71 701.77,119.32 708.62,125.94 715.54,132.56 722.54,139.17 729.61,145.79 736.76,152.41 743.99,159.02 751.30,165.64 758.69,172.26 766.15,178.87 773.70,185.49 781.32,192.11 789.03,198.72 796.81,205.34 804.68,211.95 812.63,218.57 820.66,225.19 828.78,231.80 836.98,238.42 845.26,245.04 853.62,251.65 862.08,258.27 870.61,264.89 879.23,271.50 887.94,278.12 896.74,284.74 905.62,291.35 914.59,297.97 923.65,304.59 932.80,311.20 942.04,317.82 951.37,324.44 960.79,331.05 970.30,337.67 979.90,344.28 989.59,350.90 999.38,357.52 1009.26,364.13 1019.23,370.75 1029.30,377.37 1039.46,383.98 1049.72,390.60 1060.08,397.22 1070.53,403.83 1081.08,410.45 1091.72,417.07 1102.47,423.68 1113.31,430.30 1124.26,436.92 1135.30,443.53 1146.45,450.15 1157.69,456.77 1169.04,463.38 1180.49,470.00 1192.04,476.61 1203.70,483.23 1215.46,489.85 1227.33,496.46 1239.30,503.08 1251.38,509.70 1263.57,516.31 1275.86,522.93 1288.26,529.55 1300.78,536.16 1313.40,542.78 1326.13,549.40 1338.97,556.01 1351.92,562.63 1364.98,569.25 1378.16,575.86 1391.45,582.48 1404.86,589.10 1418.38,595.71 1432.01,602.33 1445.76,608.94 1459.63,615.56 1473.62,622.18 1487.72,628.79 1501.95,635.41 1516.29,642.03 1530.75,648.64 1545.34,655.26 1560.04,661.88 1574.87,668.49 1589.83,675.11 1604.90,681.73 1620.10,688.34 1635.43,694.96 1650.88,701.58 1666.46,708.19 1682.17,714.81 1698.01,721.43 1713.97,728.04 1730.07,734.66 1746.29,741.27 1762.65,747.89 1779.14,754.51 1795.76,761.12 1812.52,767.74 1829.41,774.36 1846.44,780.97 1863.60,787.59 1880.91,794.21 1898.34,800.82 1915.92,807.44 1933.64,814.06"/></g>
<g clip-path="url(#cp)" fill="none" stroke="#00e000" stroke-width="1.05"><polyline points="128.74,339.30 132.67,345.07 136.66,350.85 140.71,356.62 144.81,362.40 148.96,368.17 153.17,373.95 157.42,379.72 161.72,385.50 166.06,391.27 170.44,397.05 174.87,402.82 179.33,408.60 183.82,414.37 188.35,420.15 192.92,425.92 197.51,431.69 202.13,437.47 206.77,443.24 211.44,449.02 216.13,454.79 220.84,460.57 225.57,466.34 230.31,472.12 235.06,477.89 239.83,483.67 244.60,489.44 249.38,495.22 254.16,500.99 258.95,506.77 263.74,512.54 268.53,518.32 273.31,524.09 278.09,529.86 282.86,535.64 287.62,541.41 292.37,547.19 297.10,552.96 301.82,558.74 306.52,564.51 311.20,570.29 315.86,576.06 320.50,581.84 325.11,587.61 329.69,593.39 334.23,599.16 338.75,604.94 343.23,610.71 347.68,616.48 352.09,622.26 356.45,628.03 360.78,633.81 365.06,639.58 369.29,645.36 373.47,651.13 377.60,656.91 381.68,662.68 385.70,668.46 389.67,674.23 393.58,680.01 397.42,685.78 401.20,691.56 404.92,697.33 408.57,703.11 412.15,708.88 415.66,714.65 419.09,720.43 422.45,726.20 425.73,731.98 428.93,737.75 432.04,743.53 435.08,749.30 438.02,755.08 440.88,760.85 443.65,766.63 446.33,772.40 448.91,778.18 451.39,783.95 453.78,789.73 456.07,795.50"/><polyline points="187.79,339.30 192.37,345.07 196.97,350.85 201.59,356.62 206.22,362.40 210.88,368.17 215.55,373.95 220.23,379.72 224.93,385.50 229.64,391.27 234.35,397.05 239.08,402.82 243.81,408.60 248.54,414.37 253.28,420.15 258.02,425.92 262.76,431.69 267.50,437.47 272.24,443.24 276.97,449.02 281.70,454.79 286.42,460.57 291.13,466.34 295.83,472.12 300.51,477.89 305.19,483.67 309.85,489.44 314.49,495.22 319.11,500.99 323.72,506.77 328.30,512.54 332.86,518.32 337.40,524.09 341.91,529.86 346.39,535.64 350.85,541.41 355.27,547.19 359.66,552.96 364.02,558.74 368.34,564.51 372.63,570.29 376.88,576.06 381.09,581.84 385.26,587.61 389.39,593.39 393.47,599.16 397.51,604.94 401.49,610.71 405.44,616.48 409.33,622.26 413.17,628.03 416.95,633.81 420.68,639.58 424.36,645.36 427.97,651.13 431.53,656.91 435.03,662.68 438.46,668.46 441.83,674.23 445.13,680.01 448.37,685.78 451.54,691.56 454.64,697.33 457.67,703.11 460.62,708.88 463.50,714.65 466.30,720.43 469.03,726.20 471.68,731.98 474.24,737.75 476.73,743.53 479.12,749.30 481.44,755.08 483.67,760.85 485.80,766.63 487.85,772.40 489.81,778.18 491.68,783.95 493.45,789.73 495.12,795.50"/><polyline points="255.68,339.30 260.91,345.07 266.10,350.85 271.25,356.62 276.37,362.40 281.45,368.17 286.50,373.95 291.51,379.72 296.49,385.50 301.42,391.27 306.32,397.05 311.19,402.82 316.01,408.60 320.80,414.37 325.55,420.15 330.25,425.92 334.92,431.69 339.55,437.47 344.14,443.24 348.69,449.02 353.20,454.79 357.67,460.57 362.10,466.34 366.48,472.12 370.82,477.89 375.12,483.67 379.38,489.44 383.60,495.22 387.77,500.99 391.90,506.77 395.98,512.54 400.02,518.32 404.01,524.09 407.96,529.86 411.87,535.64 415.73,541.41 419.54,547.19 423.30,552.96 427.02,558.74 430.70,564.51 434.32,570.29 437.90,576.06 441.43,581.84 444.91,587.61 448.34,593.39 451.72,599.16 455.06,604.94 458.34,610.71 461.57,616.48 464.76,622.26 467.89,628.03 470.97,633.81 474.00,639.58 476.98,645.36 479.90,651.13 482.78,656.91 485.60,662.68 488.37,668.46 491.08,674.23 493.74,680.01 496.35,685.78 498.90,691.56 501.40,697.33 503.84,703.11 506.23,708.88 508.56,714.65 510.83,720.43 513.05,726.20 515.21,731.98 517.32,737.75 519.36,743.53 521.35,749.30 523.28,755.08 525.16,760.85 526.97,766.63 528.72,772.40 530.42,778.18 532.05,783.95 533.63,789.73 535.14,795.50"/><polyline points="337.60,339.30 342.80,345.07 347.94,350.85 353.01,356.62 358.02,362.40 362.96,368.17 367.85,373.95 372.67,379.72 377.43,385.50 382.13,391.27 386.77,397.05 391.34,402.82 395.86,408.60 400.32,414.37 404.72,420.15 409.05,425.92 413.33,431.69 417.55,437.47 421.71,443.24 425.82,449.02 429.86,454.79 433.85,460.57 437.78,466.34 441.65,472.12 445.46,477.89 449.22,483.67 452.92,489.44 456.57,495.22 460.16,500.99 463.69,506.77 467.17,512.54 470.59,518.32 473.96,524.09 477.28,529.86 480.54,535.64 483.75,541.41 486.90,547.19 490.00,552.96 493.05,558.74 496.04,564.51 498.98,570.29 501.87,576.06 504.71,581.84 507.49,587.61 510.23,593.39 512.91,599.16 515.55,604.94 518.13,610.71 520.66,616.48 523.14,622.26 525.58,628.03 527.96,633.81 530.30,639.58 532.58,645.36 534.82,651.13 537.01,656.91 539.15,662.68 541.25,668.46 543.29,674.23 545.29,680.01 547.25,685.78 549.15,691.56 551.01,697.33 552.83,703.11 554.60,708.88 556.32,714.65 558.00,720.43 559.63,726.20 561.22,731.98 562.77,737.75 564.27,743.53 565.73,749.30 567.14,755.08 568.51,760.85 569.84,766.63 571.13,772.40 572.37,778.18 573.57,783.95 574.73,789.73 575.85,795.50"/><polyline points="430.45,339.30 435.37,345.07 440.19,350.85 444.92,356.62 449.56,362.40 454.10,368.17 458.54,373.95 462.90,379.72 467.16,385.50 471.34,391.27 475.43,397.05 479.43,402.82 483.35,408.60 487.19,414.37 490.94,420.15 494.61,425.92 498.20,431.69 501.71,437.47 505.15,443.24 508.50,449.02 511.79,454.79 515.00,460.57 518.14,466.34 521.20,472.12 524.20,477.89 527.13,483.67 529.99,489.44 532.79,495.22 535.52,500.99 538.19,506.77 540.79,512.54 543.34,518.32 545.82,524.09 548.25,529.86 550.62,535.64 552.94,541.41 555.20,547.19 557.40,552.96 559.56,558.74 561.66,564.51 563.72,570.29 565.73,576.06 567.69,581.84 569.60,587.61 571.47,593.39 573.30,599.16 575.09,604.94 576.83,610.71 578.54,616.48 580.21,622.26 581.84,628.03 583.44,633.81 585.00,639.58 586.53,645.36 588.03,651.13 589.50,656.91 590.94,662.68 592.35,668.46 593.74,674.23 595.10,680.01 596.44,685.78 597.75,691.56 599.04,697.33 600.32,703.11 601.57,708.88 602.81,714.65 604.03,720.43 605.24,726.20 606.43,731.98 607.61,737.75 608.78,743.53 609.94,749.30 611.09,755.08 612.23,760.85 613.37,766.63 614.50,772.40 615.63,778.18 616.76,783.95 617.88,789.73 619.01,795.50"/><polyline points="530.90,339.30 534.73,345.07 538.47,350.85 542.12,356.62 545.69,362.40 549.16,368.17 552.55,373.95 555.85,379.72 559.08,385.50 562.22,391.27 565.27,397.05 568.25,402.82 571.16,408.60 573.98,414.37 576.73,420.15 579.41,425.92 582.02,431.69 584.55,437.47 587.02,443.24 589.42,449.02 591.75,454.79 594.02,460.57 596.22,466.34 598.36,472.12 600.44,477.89 602.46,483.67 604.43,489.44 606.34,495.22 608.19,500.99 609.99,506.77 611.73,512.54 613.43,518.32 615.07,524.09 616.67,529.86 618.22,535.64 619.73,541.41 621.19,547.19 622.61,552.96 623.99,558.74 625.33,564.51 626.63,570.29 627.90,576.06 629.13,581.84 630.32,587.61 631.49,593.39 632.62,599.16 633.72,604.94 634.79,610.71 635.84,616.48 636.86,622.26 637.86,628.03 638.83,633.81 639.79,639.58 640.72,645.36 641.64,651.13 642.54,656.91 643.42,662.68 644.29,668.46 645.14,674.23 645.99,680.01 646.82,685.78 647.65,691.56 648.47,697.33 649.28,703.11 650.09,708.88 650.90,714.65 651.70,720.43 652.51,726.20 653.31,731.98 654.12,737.75 654.93,743.53 655.75,749.30 656.58,755.08 657.41,760.85 658.25,766.63 659.11,772.40 659.98,778.18 660.86,783.95 661.75,789.73 662.67,795.50"/><polyline points="631.44,339.30 633.58,345.07 635.68,350.85 637.73,356.62 639.73,362.40 641.68,368.17 643.58,373.95 645.43,379.72 647.24,385.50 649.00,391.27 650.72,397.05 652.39,402.82 654.02,408.60 655.61,414.37 657.16,420.15 658.66,425.92 660.13,431.69 661.56,437.47 662.95,443.24 664.31,449.02 665.63,454.79 666.91,460.57 668.16,466.34 669.37,472.12 670.55,477.89 671.70,483.67 672.82,489.44 673.91,495.22 674.97,500.99 676.00,506.77 677.01,512.54 677.98,518.32 678.94,524.09 679.86,529.86 680.76,535.64 681.64,541.41 682.50,547.19 683.33,552.96 684.14,558.74 684.93,564.51 685.71,570.29 686.46,576.06 687.20,581.84 687.92,587.61 688.63,593.39 689.32,599.16 689.99,604.94 690.65,610.71 691.30,616.48 691.94,622.26 692.57,628.03 693.19,633.81 693.79,639.58 694.39,645.36 694.99,651.13 695.57,656.91 696.15,662.68 696.73,668.46 697.30,674.23 697.87,680.01 698.43,685.78 699.00,691.56 699.56,697.33 700.13,703.11 700.69,708.88 701.26,714.65 701.83,720.43 702.40,726.20 702.98,731.98 703.56,737.75 704.15,743.53 704.74,749.30 705.35,755.08 705.96,760.85 706.58,766.63 707.21,772.40 707.85,778.18 708.51,783.95 709.18,789.73 709.86,795.50"/></g>
<g clip-path="url(#cp)" stroke="#00e800" stroke-width="0.9" stroke-dasharray="3.2 2.6"><line x1="595.67" y1="795.45" x2="728.05" y2="502.92"/><line x1="523.76" y1="795.45" x2="663.74" y2="502.92"/><line x1="469.28" y1="795.45" x2="614.86" y2="502.92"/><line x1="408.98" y1="795.45" x2="560.61" y2="502.92"/><line x1="346.83" y1="795.45" x2="504.52" y2="502.92"/><line x1="299.88" y1="795.45" x2="462.02" y2="502.92"/><line x1="224.17" y1="795.45" x2="393.23" y2="502.92"/></g>
<g fill="#00e800" font-size="12"><text x="589.31" y="803.34" transform="rotate(-55 589.31 803.34)" text-anchor="middle" dominant-baseline="central">20</text><text x="517.18" y="803.34" transform="rotate(-55 517.18 803.34)" text-anchor="middle" dominant-baseline="central">12</text><text x="462.53" y="803.34" transform="rotate(-55 462.53 803.34)" text-anchor="middle" dominant-baseline="central">8</text><text x="402.06" y="803.34" transform="rotate(-55 402.06 803.34)" text-anchor="middle" dominant-baseline="central">5</text><text x="339.73" y="803.34" transform="rotate(-55 339.73 803.34)" text-anchor="middle" dominant-baseline="central">3</text><text x="292.65" y="803.34" transform="rotate(-55 292.65 803.34)" text-anchor="middle" dominant-baseline="central">2</text><text x="216.74" y="803.34" transform="rotate(-55 216.74 803.34)" text-anchor="middle" dominant-baseline="central">1</text></g>
<polygon points="69.10,60.33 69.10,811.03 819.45,811.03 819.45,645.28 681.45,502.96 681.45,60.33" fill="none" stroke="#b8b8b8" stroke-width="0.8"/>
<line x1="69.10" y1="810.5" x2="819.45" y2="810.5" stroke="#c08a8a" stroke-width="1"/>
<line x1="69.10" y1="60.5" x2="681.45" y2="60.5" stroke="#a86a6a" stroke-width="1"/>
<g fill="#a83232" font-size="13"><text x="685.94" y="349.03" transform="rotate(-45 685.94 349.03)" dominant-baseline="central">-10</text><text x="685.80" y="448.52" transform="rotate(-45 685.80 448.52)" dominant-baseline="central">0</text><text x="708.97" y="521.92" transform="rotate(-45 708.97 521.92)" dominant-baseline="central">10</text><text x="755.12" y="569.60" transform="rotate(-45 755.12 569.60)" dominant-baseline="central">20</text><text x="801.26" y="617.28" transform="rotate(-45 801.26 617.28)" dominant-baseline="central">30</text><text x="823.92" y="691.24" transform="rotate(-45 823.92 691.24)" dominant-baseline="central">40</text><text x="823.96" y="790.55" transform="rotate(-45 823.96 790.55)" dominant-baseline="central">50</text></g>
<line x1="68.80" y1="60.33" x2="68.80" y2="795.45" stroke="#484848" stroke-width="1.1"/>
<g stroke="#484848" stroke-width="1.1"><line x1="61.40" y1="795.50" x2="68.80" y2="795.50"/><line x1="61.40" y1="743.50" x2="68.80" y2="743.50"/><line x1="61.40" y1="681.50" x2="68.80" y2="681.50"/><line x1="61.40" y1="574.50" x2="68.80" y2="574.50"/><line x1="61.40" y1="502.50" x2="68.80" y2="502.50"/><line x1="61.40" y1="411.50" x2="68.80" y2="411.50"/><line x1="61.40" y1="352.50" x2="68.80" y2="352.50"/><line x1="61.40" y1="281.50" x2="68.80" y2="281.50"/><line x1="61.40" y1="189.50" x2="68.80" y2="189.50"/><line x1="61.40" y1="60.50" x2="68.80" y2="60.50"/></g>
<g fill="#111" font-size="13.8"><text x="51.90" y="795.50" transform="rotate(-90 51.9 795.50)" text-anchor="middle">1000</text><text x="51.90" y="743.50" transform="rotate(-90 51.9 743.50)" text-anchor="middle">850</text><text x="51.90" y="681.50" transform="rotate(-90 51.9 681.50)" text-anchor="middle">700</text><text x="51.90" y="574.50" transform="rotate(-90 51.9 574.50)" text-anchor="middle">500</text><text x="51.90" y="502.50" transform="rotate(-90 51.9 502.50)" text-anchor="middle">400</text><text x="51.90" y="411.50" transform="rotate(-90 51.9 411.50)" text-anchor="middle">300</text><text x="51.90" y="352.50" transform="rotate(-90 51.9 352.50)" text-anchor="middle">250</text><text x="51.90" y="281.50" transform="rotate(-90 51.9 281.50)" text-anchor="middle">200</text><text x="51.90" y="189.50" transform="rotate(-90 51.9 189.50)" text-anchor="middle">150</text><text x="51.90" y="60.50" transform="rotate(-90 51.9 60.50)" text-anchor="middle">100</text></g>
<line x1="95.72" y1="810.50" x2="716.81" y2="810.50" stroke="#484848" stroke-width="1.1"/>
<g stroke="#484848" stroke-width="1.1"><line x1="95.50" y1="810.50" x2="95.50" y2="817.90"/><line x1="184.50" y1="810.50" x2="184.50" y2="817.90"/><line x1="273.50" y1="810.50" x2="273.50" y2="817.90"/><line x1="361.50" y1="810.50" x2="361.50" y2="817.90"/><line x1="450.50" y1="810.50" x2="450.50" y2="817.90"/><line x1="539.50" y1="810.50" x2="539.50" y2="817.90"/><line x1="628.50" y1="810.50" x2="628.50" y2="817.90"/><line x1="716.50" y1="810.50" x2="716.50" y2="817.90"/></g>
<g fill="#111" font-size="13.8"><text x="95.50" y="837" text-anchor="middle">-30</text><text x="184.50" y="837" text-anchor="middle">-20</text><text x="273.50" y="837" text-anchor="middle">-10</text><text x="361.50" y="837" text-anchor="middle">0</text><text x="450.50" y="837" text-anchor="middle">10</text><text x="539.50" y="837" text-anchor="middle">20</text><text x="628.50" y="837" text-anchor="middle">30</text><text x="716.50" y="837" text-anchor="middle">40</text></g>
<text x="444.3" y="866.7" text-anchor="middle" font-size="13" fill="#111">Temperature (C)</text>
<text x="14" y="435.3" transform="rotate(-90 14 435.3)" text-anchor="middle" font-size="13" fill="#111">P (hPa)</text>
<text x="444.5" y="20.8" text-anchor="middle" font-size="14.4" font-weight="bold" fill="#111">CSU WRF skew-T for Scottsbluff</text>
<text x="444.5" y="36.7" text-anchor="middle" font-size="13" fill="#111" xml:space="preserve">init: 0000 UTC Sun 29 Mar 2026    00-hr forecast valid 0000 UTC Sun 29 Mar 2026</text>
<polyline points="234.90,244.40 232.90,271.10 234.40,295.60 241.10,320.00 251.10,344.40 256.70,368.90 263.30,393.30 270.00,412.20 281.10,426.70 292.20,438.90 297.80,443.10 315.60,464.40 330.90,481.80 343.30,496.00 355.80,512.90 365.60,531.60 369.60,547.60 370.50,562.00 371.50,575.00 374.40,586.00 384.20,600.20 385.60,619.80 380.70,632.20 378.00,640.00 373.30,650.70 366.70,662.70 360.00,678.70 354.70,693.30 351.30,706.70 350.90,724.00 345.30,729.30 342.70,734.70 345.30,741.30 354.70,745.30 362.70,747.30 362.90,752.70" fill="none" stroke="#62c64a" stroke-width="3.2" stroke-linejoin="round"/>
<polyline points="431.60,81.60 422.00,110.00 415.00,126.00 408.00,144.00 399.00,166.00 383.60,193.60 374.00,201.00 356.00,216.00 343.30,230.00 326.00,245.30 314.00,258.70 303.30,270.70 298.00,283.30 292.00,295.30 291.60,302.00 292.00,320.70 295.30,334.00 298.70,344.70 299.60,347.10 312.00,370.20 326.20,391.60 338.70,409.30 347.60,425.30 354.70,439.60 367.10,464.40 375.30,480.00 382.40,491.60 387.80,502.20 394.00,515.60 400.20,530.80 414.40,550.40 430.40,566.40 451.80,591.30 462.40,603.80 483.80,621.60 490.00,628.90 511.30,646.70 539.80,671.60 564.70,694.70 578.90,710.70 593.10,724.90 607.30,735.60 614.40,742.70 621.60,752.40" fill="none" stroke="#d94a68" stroke-width="3.3" stroke-linejoin="round"/>
<polyline points="431.60,81.60 422.00,110.00 415.00,126.00 408.00,144.00 399.00,166.00 383.60,193.60 374.00,201.00 356.00,216.00 343.30,230.00 326.00,245.30 314.00,258.70 303.30,270.70 298.00,283.30 292.00,295.30 291.60,302.00 292.00,320.70 295.30,334.00 298.70,344.70 299.60,347.10 312.00,370.20 326.20,391.60 338.70,409.30 347.60,425.30 354.70,439.60 367.10,464.40 375.30,480.00 382.40,491.60 387.80,502.20 394.00,515.60 400.20,530.80 414.65,550.40 431.03,566.40 453.02,591.30 463.92,603.80 485.74,621.60 492.11,628.90 513.83,646.70 542.93,671.60 568.37,694.70 582.70,710.70 596.90,724.90 611.10,735.60 618.20,742.70 625.40,752.40" fill="none" stroke="#ff0a0a" stroke-width="1.2" stroke-dasharray="3.5 2.5" stroke-linejoin="round"/>
<circle cx="188.8" cy="160.2" r="96" fill="#fff" stroke="#bdbdbd" stroke-width="0.9"/><circle cx="188.8" cy="160.2" r="16" fill="none" stroke="#bdbdbd" stroke-width="0.9"/><circle cx="188.8" cy="160.2" r="32" fill="none" stroke="#bdbdbd" stroke-width="0.9"/><circle cx="188.8" cy="160.2" r="48" fill="none" stroke="#bdbdbd" stroke-width="0.9"/><circle cx="188.8" cy="160.2" r="64" fill="none" stroke="#bdbdbd" stroke-width="0.9"/><circle cx="188.8" cy="160.2" r="80" fill="none" stroke="#bdbdbd" stroke-width="0.9"/>
<g font-size="8.6" fill="#222"><text x="188.8" y="160.20" text-anchor="middle" dominant-baseline="central">0</text><text x="188.8" y="176.20" text-anchor="middle" dominant-baseline="central">10</text><text x="188.8" y="192.20" text-anchor="middle" dominant-baseline="central">20</text><text x="188.8" y="208.20" text-anchor="middle" dominant-baseline="central">30</text><text x="188.8" y="224.20" text-anchor="middle" dominant-baseline="central">40</text><text x="188.8" y="240.20" text-anchor="middle" dominant-baseline="central">50</text><text x="188.8" y="256.20" text-anchor="middle" dominant-baseline="central">60</text></g>
<polyline points="184.20,171.20 187.70,176.80 203.10,173.30 218.20,170.50 230.10,166.50 241.80,156.00 247.90,153.00 257.90,163.50 266.30,169.30" fill="none" stroke="#ff0000" stroke-width="2.7" stroke-linejoin="round"/>
<g fill="#ff0000"><circle cx="184.2" cy="171.2" r="3.0"/><circle cx="187.7" cy="176.8" r="3.0"/><circle cx="203.1" cy="173.3" r="3.0"/><circle cx="218.2" cy="170.5" r="3.0"/><circle cx="230.1" cy="166.5" r="3.0"/><circle cx="241.8" cy="156.0" r="3.0"/><circle cx="247.9" cy="153.0" r="3.0"/><circle cx="257.9" cy="163.5" r="3.0"/><circle cx="266.3" cy="169.3" r="3.0"/></g>
<g fill="#ff1a1a" font-size="8.8"><text x="180.0" y="172.7" text-anchor="middle" dominant-baseline="central">0</text><text x="187.5" y="172.5" text-anchor="middle" dominant-baseline="central">0</text><text x="192.5" y="172.2" text-anchor="middle" dominant-baseline="central">1</text><text x="193.5" y="177.3" text-anchor="middle" dominant-baseline="central">5</text><text x="204.7" y="171.3" text-anchor="middle" dominant-baseline="central">1</text><text x="219.6" y="165.8" text-anchor="middle" dominant-baseline="central">1.5</text><text x="230.1" y="159.8" text-anchor="middle" dominant-baseline="central">2</text><text x="240.2" y="147.6" text-anchor="middle" dominant-baseline="central">3</text><text x="246.2" y="143.6" text-anchor="middle" dominant-baseline="central">4</text><text x="257.2" y="151.8" text-anchor="middle" dominant-baseline="central">5</text><text x="265.9" y="156.3" text-anchor="middle" dominant-baseline="central">6</text></g>
<rect x="613.5" y="60.6" width="114.4" height="258.3" fill="#fff" stroke="#444" stroke-width="1"/>
<g font-size="9.2" fill="#3a3a3a"><text x="630.1" y="75.00" xml:space="preserve">surface parcel:</text><text x="630.1" y="85.80" xml:space="preserve">CAPE = 0 J/kg</text><text x="630.1" y="96.60" xml:space="preserve">CIN = 0 J/kg</text><text x="630.1" y="107.40" xml:space="preserve">LCL = 565 hPa</text><text x="630.1" y="118.20" xml:space="preserve">LFC = NA hPa</text><text x="630.1" y="139.80" xml:space="preserve">mean-layer parcel:</text><text x="630.1" y="150.60" xml:space="preserve">CAPE = 2.5 J/kg</text><text x="630.1" y="161.40" xml:space="preserve">CIN = 0 J/kg</text><text x="630.1" y="172.20" xml:space="preserve">LCL = 545 hPa</text><text x="630.1" y="183.00" xml:space="preserve">LFC = NA hPa</text><text x="630.1" y="204.60" xml:space="preserve">most-unstable parcel:</text><text x="630.1" y="215.40" xml:space="preserve">CAPE = 0 J/kg</text><text x="630.1" y="226.20" xml:space="preserve">CIN = 0 J/kg</text><text x="630.1" y="237.00" xml:space="preserve">LCL = 492 hPa</text><text x="630.1" y="247.80" xml:space="preserve">LFC = NA hPa</text><text x="630.1" y="258.60" xml:space="preserve">source = 607 hPa</text><text x="630.1" y="280.20" xml:space="preserve">PW =  8.87 mm</text><text x="630.1" y="301.80" xml:space="preserve">0--6-km shear= 51.3 kt</text><text x="630.1" y="312.60" xml:space="preserve">0--1-km shear= 11.8 kt</text></g>
<line x1="766.5" y1="30" x2="766.5" y2="840.2" stroke="#505050" stroke-width="1.1"/>
<path d="M766.50 81.60L740.16 78.72M747.31 79.50l0.87 -7.95M766.50 110.70L740.22 107.33M747.36 108.24l1.02 -7.93M751.23 108.74l0.51 -3.97M766.50 139.30L740.13 136.71M747.29 137.42l0.78 -7.96M751.17 137.80l0.39 -3.98M766.50 166.70L740.01 166.00M747.21 166.19l0.21 -8.00M750.81 166.29l0.21 -8.00M766.50 194.00L740.00 193.60M747.20 193.71l0.12 -8.00M750.80 193.76l0.12 -8.00M766.50 220.40L740.00 220.40M747.20 220.40l-0.00 -8.00M750.80 220.40l-0.00 -8.00M766.50 246.30L740.05 248.00M747.24 247.54l-0.51 -7.98M751.13 247.29l-0.26 -3.99M766.50 271.60L740.14 274.29M747.30 273.56l-0.81 -7.96M751.18 273.16l-0.41 -3.98M766.50 296.70L740.13 299.29M747.29 298.58l-0.78 -7.96M751.17 298.20l-0.39 -3.98M766.50 321.30L740.08 323.29M747.25 322.75l-0.60 -7.98M751.14 322.46l-0.30 -3.99M766.50 345.30L740.02 346.30M747.21 346.03l-0.30 -7.99M751.11 345.88l-0.15 -4.00M766.50 368.30L740.01 367.70M747.20 367.86l0.18 -8.00M766.50 390.90L740.09 388.71M747.27 389.30l0.33 -3.99M766.50 412.90L740.34 408.64M766.50 434.30L740.49 429.24M741.08 429.35l1.53 -7.85M744.61 430.04l1.53 -7.85M748.14 430.73l1.53 -7.85M751.68 431.42l1.53 -7.85M755.51 432.16l0.76 -3.93M766.50 454.90L740.33 450.75M740.92 450.85l1.25 -7.90M744.47 451.41l1.25 -7.90M748.03 451.97l1.25 -7.90M751.59 452.54l1.25 -7.90M755.44 453.15l0.63 -3.95M766.50 474.70L740.22 471.33M740.81 471.40l1.02 -7.93M744.38 471.86l1.02 -7.93M747.95 472.32l1.02 -7.93M751.52 472.78l1.02 -7.93M755.39 473.27l0.51 -3.97M766.50 494.30L740.24 490.73M740.84 490.81l1.08 -7.93M744.40 491.30l1.08 -7.93M747.97 491.78l1.08 -7.93M751.54 492.27l1.08 -7.93M755.40 492.79l0.54 -3.96M766.50 513.30L740.30 509.34M740.89 509.43l1.19 -7.91M744.45 509.97l1.19 -7.91M748.01 510.51l1.19 -7.91M751.57 511.05l1.19 -7.91M755.43 511.63l0.60 -3.96M766.50 532.00L740.20 528.73M740.80 528.80l0.99 -7.94M744.37 529.24l0.99 -7.94M747.94 529.69l0.99 -7.94M751.52 530.13l0.99 -7.94M755.39 530.62l0.49 -3.97M766.50 550.20L740.07 548.30M740.67 548.35l0.57 -7.98M744.26 548.61l0.57 -7.98M747.85 548.86l0.57 -7.98M751.44 549.12l0.57 -7.98M766.50 568.30L740.02 567.20M740.62 567.23l0.33 -7.99M744.22 567.38l0.33 -7.99M747.82 567.52l0.33 -7.99M751.41 567.67l0.33 -7.99M766.50 585.30L740.07 587.20M740.67 587.15l-0.57 -7.98M744.26 586.89l-0.57 -7.98M747.85 586.64l-0.57 -7.98M751.74 586.36l-0.29 -3.99M766.50 603.10L740.24 606.67M740.84 606.59l-1.08 -7.93M744.40 606.10l-1.08 -7.93M747.97 605.62l-1.08 -7.93M751.83 605.09l-0.54 -3.96M766.50 619.40L740.28 623.26M740.88 623.17l-1.16 -7.91M744.44 622.65l-1.16 -7.91M748.00 622.12l-1.16 -7.91M751.86 621.55l-0.58 -3.96M766.50 635.30L740.12 637.79M740.71 637.73l-0.75 -7.96M744.30 637.39l-0.75 -7.96M747.88 637.06l-0.75 -7.96M766.50 650.30L740.00 650.30M740.60 650.30l-0.00 -8.00M744.20 650.30l-0.00 -8.00M747.80 650.30l-0.00 -8.00M766.50 663.30L740.08 661.28M740.68 661.33l0.61 -7.98M744.26 661.60l0.61 -7.98M748.15 661.90l0.30 -3.99M766.50 675.30L740.32 671.19M740.91 671.29l1.24 -7.90M744.47 671.84l1.24 -7.90M748.32 672.45l0.62 -3.95M766.50 685.70L740.74 679.47M741.33 679.61l1.88 -7.78M744.83 680.46l1.88 -7.78M748.62 681.37l0.94 -3.89M766.50 695.30L741.58 686.29M742.14 686.50l2.72 -7.52M745.53 687.72l2.72 -7.52M749.20 689.05l1.36 -3.76M766.50 703.30L743.55 690.05M744.07 690.35l4.00 -6.93M747.19 692.15l4.00 -6.93M766.50 709.00L745.62 692.68M746.09 693.05l4.93 -6.30M748.93 695.27l4.93 -6.30M766.50 714.00L748.43 694.62M748.84 695.06l5.85 -5.46M751.50 697.91l2.93 -2.73M766.50 718.50L751.68 696.53M752.02 697.03l6.63 -4.47M754.20 700.26l3.32 -2.24M766.50 722.50L755.30 698.48M755.55 699.03l7.25 -3.38M757.20 702.56l3.63 -1.69M766.50 726.00L759.20 700.53M759.36 701.10l7.69 -2.21M766.50 729.00L762.81 702.76M762.90 703.35l7.92 -1.11M766.50 730.50L766.50 704.00M766.50 704.60l4.00 0.00M766.50 735.00L768.35 708.56M768.31 709.16l7.98 0.56M766.50 739.00L770.65 712.83M770.55 713.42l7.90 1.25M766.50 742.50L772.91 716.79M772.77 717.37l7.76 1.94M766.50 745.50L774.69 720.30M774.50 720.87l3.80 1.24M766.50 748.50L776.00 723.76M775.78 724.32l3.73 1.43M766.50 751.00L777.28 726.79M777.03 727.34l3.65 1.63M766.50 753.00L778.53 729.39M778.26 729.92l3.56 1.82" fill="none" stroke="#111" stroke-width="1.05"/>
<path d="M740.16 78.72L743.36 71.02L744.83 79.23ZM740.22 107.33L743.56 99.69L744.88 107.93ZM740.13 136.71L743.25 128.98L744.80 137.17ZM740.01 166.00L742.57 158.07L744.71 166.12ZM740.00 193.60L742.47 185.64L744.70 193.67ZM740.00 220.40L742.35 212.40L744.70 220.40ZM740.05 248.00L741.89 239.86L744.74 247.70ZM740.14 274.29L741.66 266.09L744.81 273.81ZM740.13 299.29L741.68 291.10L744.80 298.83ZM740.08 323.29L741.82 315.14L744.76 322.94ZM740.02 346.30L742.07 338.22L744.72 346.12ZM740.01 367.70L742.54 359.76L744.71 367.81ZM740.09 388.71L743.09 380.93L744.77 389.10ZM740.34 408.64L743.95 401.12L744.98 409.40Z" fill="#111" stroke="#111" stroke-width="0.5"/>
</svg></body></html>
